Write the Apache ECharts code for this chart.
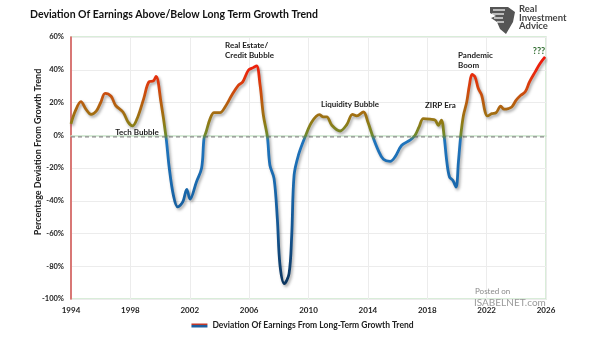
<!DOCTYPE html>
<html>
<head>
<meta charset="utf-8">
<script src="https://cdn.jsdelivr.net/npm/echarts@6/dist/echarts.min.js"></script>
<style>
html,body{margin:0;padding:0;background:#fff;}
#chart{width:605px;height:341px;}
</style>
</head>
<body>
<div id="chart"></div>
<script>
// ---- data ----
var years = [1994.0,1994.3,1994.67,1995.0,1995.35,1995.7,1996.0,1996.3,1996.7,1997.0,1997.5,1997.85,1998.15,1998.5,1998.9,1999.25,1999.55,1999.73,2000.06,2000.4,2000.62,2000.9,2001.19,2001.53,2001.8,2002.02,2002.45,2002.8,2002.96,2003.1,2003.37,2003.64,2004.04,2004.38,2004.83,2005.27,2005.57,2005.95,2006.28,2006.5,2006.74,2006.96,2007.23,2007.4,2007.68,2007.9,2008.08,2008.37,2008.69,2008.87,2009.03,2009.32,2009.77,2010.22,2010.73,2011.0,2011.23,2011.57,2012.13,2012.58,2012.96,2013.25,2013.7,2014.0,2014.3,2014.7,2015.05,2015.5,2015.83,2016.28,2016.84,2017.18,2017.45,2017.74,2018.19,2018.53,2018.75,2018.95,2019.13,2019.32,2019.5,2019.72,2019.94,2020.1,2020.26,2020.44,2020.66,2020.84,2021.02,2021.22,2021.44,2021.67,2021.9,2022.05,2022.35,2022.64,2022.95,2023.18,2023.47,2023.7,2023.99,2024.3,2024.6,2024.89,2025.27,2025.6,2025.94];
var deviation = [7,15,20.5,16,12.8,14.7,20,25.6,23.8,18.3,14.2,8,5.7,11.2,22.4,32.6,33.2,36,20.3,-1,-20,-36.7,-43.8,-40.7,-33,-39,-28.5,-20,-2,2,10,13.8,13.8,17.3,24.4,30.5,32.6,39.7,41.3,42.3,30.5,12.2,-1,-18.3,-26.5,-50.9,-79.4,-90.6,-84.5,-61,-24.4,-12.2,-1,8.1,12.6,11.2,11.2,6.1,2.6,6.5,12.8,11.8,14.2,8.1,0,-9.2,-14.7,-15.9,-13.2,-6.1,-3,0,5.1,10.2,9.8,9.2,6.1,9.2,0,-16.3,-25.5,-27.5,-31.6,-16.3,0,12.2,20.3,30.5,37.1,35.6,28.5,24.4,14.2,11.8,13.2,13.8,17.7,15.9,16.3,17.3,21.4,24.4,26.5,32.6,38.7,43.8,47.8];
var trendLevel = -1;
var yTicks = {min:-100, max:60, step:20};
var xTicks = {min:1994, max:2026, step:4};
var seriesName = 'Deviation Of Earnings From Long-Term Growth Trend';

// ---- colour ramp for the line ----
var stops = [[-100,'#0a2c50'],[-85,'#0d3b68'],[-60,'#14548f'],[-30,'#1a69ad'],[-3,'#1f74bd'],[0,'#6f8a2c'],[8,'#917a14'],[18,'#b2620f'],[28,'#d2470e'],[38,'#e8290c'],[50,'#f2120a']];
function hex(c){return [parseInt(c.substr(1,2),16),parseInt(c.substr(3,2),16),parseInt(c.substr(5,2),16)];}
function colorAt(v){
  for(var i=0;i<stops.length-1;i++){
    if(v>=stops[i][0] && v<=stops[i+1][0]){
      var t=(v-stops[i][0])/(stops[i+1][0]-stops[i][0]);
      var a=hex(stops[i][1]), b=hex(stops[i+1][1]);
      return 'rgb('+a.map(function(x,k){return Math.round(x+(b[k]-x)*t);}).join(',')+')';
    }
  }
  return stops[stops.length-1][1];
}
var ramp=[]; for(var v=-100; v<=50; v+=1){ramp.push(colorAt(v));}

var seriesData = years.map(function(y,i){return [y, deviation[i]];});
var trendData = [[xTicks.min, trendLevel],[xTicks.max, trendLevel]];
var FONT = 'Lato';

var chart = echarts.init(document.getElementById('chart'), null, {renderer:'canvas'});
chart.setOption({
  animation:false,
  backgroundColor:'#fff',
  textStyle:{fontFamily:FONT},
  grid:{left:71,right:59,top:37,bottom:42,show:true,borderColor:'#cde8cd',borderWidth:1.5},
  xAxis:{type:'value',min:xTicks.min,max:xTicks.max,interval:xTicks.step,
    axisLine:{show:true,lineStyle:{color:'#cde8cd',width:1.5}},
    axisTick:{show:false},
    splitLine:{show:true,lineStyle:{color:'#ececec',width:1}},
    axisLabel:{color:'#222',fontSize:8,fontWeight:'bold',fontFamily:FONT,margin:7,formatter:function(v){return String(v);}}},
  yAxis:{type:'value',min:yTicks.min,max:yTicks.max,interval:yTicks.step,
    axisLine:{show:true,onZero:false,lineStyle:{color:'#d45050',width:1.5}},
    axisTick:{show:false},
    splitLine:{show:true,lineStyle:{color:'#ececec',width:1}},
    axisLabel:{color:'#222',fontSize:7.5,fontWeight:'bold',fontFamily:FONT,margin:7,formatter:'{value}%'}},
  visualMap:{type:'continuous',show:false,dimension:1,min:-100,max:50,seriesIndex:[0],inRange:{color:ramp}},
  legend:{show:true,bottom:6,left:'center',icon:'rect',itemWidth:16,itemHeight:4,itemGap:4,
    textStyle:{fontSize:8.5,fontWeight:'bold',color:'#222',fontFamily:FONT},
    data:[{name:seriesName,itemStyle:{color:new echarts.graphic.LinearGradient(0,0,0,1,[{offset:0,color:'#c0392b'},{offset:0.5,color:'#c0392b'},{offset:0.5,color:'#1f5f9f'},{offset:1,color:'#1f5f9f'}])}}]},
  series:[{
    name:seriesName,type:'line',data:seriesData,smooth:0.35,showSymbol:false,symbol:'none',
    lineStyle:{width:2.8,shadowColor:'rgba(0,0,0,0.35)',shadowBlur:3,shadowOffsetX:1.5,shadowOffsetY:2},
    z:3
  },{
    name:'trend',type:'line',data:trendData,silent:true,showSymbol:false,symbol:'none',
    color:'#8a8a8a',
    lineStyle:{color:'#8a8a8a',type:[4,3],width:1.3},
    z:2
  }],
  graphic:[
    {type:'text',z:100,x:30,y:15,style:{text:'Deviation Of Earnings Above/Below Long Term Growth Trend',font:'bold 10.5px '+FONT,fill:'#111',textVerticalAlign:'middle'}},
    {type:'text',z:100,x:38,y:152,rotation:Math.PI/2,style:{text:'Percentage Deviation From Growth Trend',font:'bold 9px '+FONT,fill:'#222',textAlign:'center',textVerticalAlign:'middle'}},
    // annotations
    {type:'text',z:100,x:137,y:132,style:{text:'Tech Bubble',font:'bold 8px '+FONT,fill:'#222',textAlign:'center',textVerticalAlign:'middle'}},
    {type:'text',z:100,x:225,y:40,style:{text:'Real Estate/\nCredit Bubble',font:'bold 8px '+FONT,fill:'#222',lineHeight:10.5}},
    {type:'text',z:100,x:321,y:104,style:{text:'Liquidity Bubble',font:'bold 8px '+FONT,fill:'#222',textVerticalAlign:'middle'}},
    {type:'text',z:100,x:425,y:105,style:{text:'ZIRP Era',font:'bold 8px '+FONT,fill:'#222',textVerticalAlign:'middle'}},
    {type:'text',z:100,x:458,y:50,style:{text:'Pandemic\nBoom',font:'bold 8px '+FONT,fill:'#222',lineHeight:10.5}},
    {type:'text',z:100,x:539,y:51,style:{text:'???',font:'bold 9px '+FONT,fill:'#2e6a2e',textAlign:'center',textVerticalAlign:'middle'}},
    // logo
    {type:'polygon',z:100,shape:{points:[[490,7],[508,7],[515,12],[513,22],[506,34],[500,29],[497,22],[491,18],[496,16],[490,13]]},style:{fill:'#555'}},
    {type:'polyline',z:101,shape:{points:[[493,10],[505,10]]},style:{stroke:'#fff',lineWidth:1.2}},
    {type:'polyline',z:101,shape:{points:[[492,14],[504,14]]},style:{stroke:'#fff',lineWidth:1.2}},
    {type:'polyline',z:101,shape:{points:[[494,18],[503,18]]},style:{stroke:'#fff',lineWidth:1.2}},
    {type:'polyline',z:101,shape:{points:[[497,22],[504,22]]},style:{stroke:'#fff',lineWidth:1.2}},
    {type:'text',z:100,x:519,y:5,style:{text:'Real\nInvestment\nAdvice',font:'bold 9.5px '+FONT,fill:'#444',lineHeight:8.5}},
    // watermark
    {type:'text',z:100,x:475,y:287,style:{text:'Posted on',font:'8px '+FONT,fill:'#8a8a8a'}},
    {type:'text',z:100,x:474,y:298,style:{text:'ISABELNET.com',font:'10px '+FONT,fill:'#9a9a9a'}}
  ]
});
</script>
</body>
</html>
